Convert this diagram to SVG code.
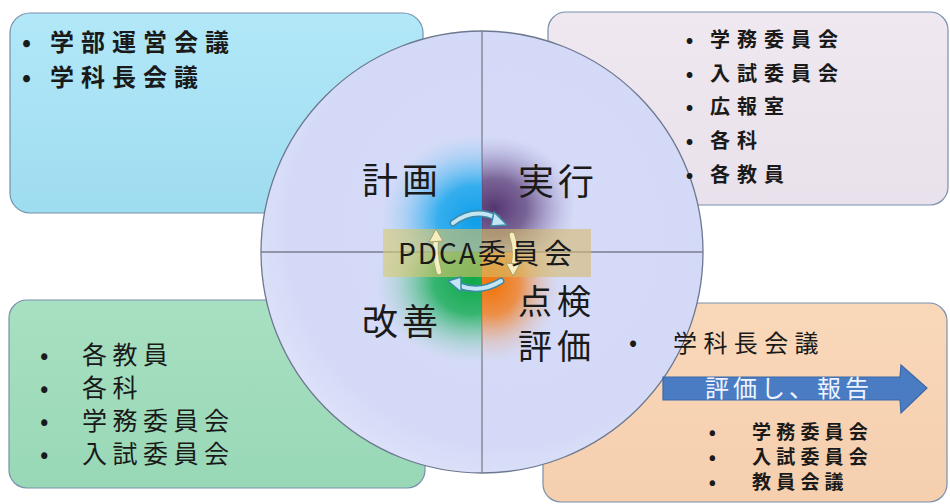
<svg xmlns="http://www.w3.org/2000/svg" width="950" height="504" viewBox="0 0 950 504">
<defs>
<style>
text{font-family:"Noto Sans CJK JP","Noto Sans",sans-serif;fill:#1a1a1a}
.box{stroke:#7890ac;stroke-width:1.2}
.tl{font-size:24px;letter-spacing:7px;font-weight:bold}
.tr{font-size:20px;letter-spacing:7px;font-weight:bold}
.bl{font-size:25px;letter-spacing:5.5px}
.br{font-size:19px;letter-spacing:5.2px;font-weight:bold}
.q{font-size:36px;letter-spacing:4px}
.q2{font-size:34px;letter-spacing:5px}
.bul{text-anchor:middle}
.arc{fill:none;stroke:#3d8aa8;stroke-width:7;stroke-linecap:round}
.arcin{fill:none;stroke:#c4e6f4;stroke-width:4;stroke-linecap:round}
.ahead{fill:#c4e6f4;stroke:#3d8aa8;stroke-width:1.5;stroke-linejoin:round}
.ylwo{fill:none;stroke:#a8a068;stroke-width:6.5;stroke-linecap:round;opacity:0.6}
.ylw{fill:none;stroke:#f4eec0;stroke-width:4.5;stroke-linecap:round}
.yhead{fill:#f4eec0;stroke:#a8a068;stroke-width:1;stroke-linejoin:round}
</style>
<linearGradient id="gTL" x1="0" y1="0" x2="0" y2="1"><stop offset="0" stop-color="#b2e8f8"/><stop offset="1" stop-color="#9edcf0"/></linearGradient>
<linearGradient id="gTR" x1="0" y1="0" x2="0" y2="1"><stop offset="0" stop-color="#efe8f0"/><stop offset="1" stop-color="#e9e1eb"/></linearGradient>
<linearGradient id="gBL" x1="0" y1="0" x2="0" y2="1"><stop offset="0" stop-color="#a8e0c2"/><stop offset="1" stop-color="#98d8b6"/></linearGradient>
<linearGradient id="gBR" x1="0" y1="0" x2="0" y2="1"><stop offset="0" stop-color="#f9d8ba"/><stop offset="1" stop-color="#f5cfae"/></linearGradient>
<radialGradient id="gCirc" cx="0.55" cy="0.45" r="0.6"><stop offset="0" stop-color="#d6dcf8"/><stop offset="0.8" stop-color="#d3d9f6"/><stop offset="1" stop-color="#e0e4fa"/></radialGradient>
<radialGradient id="glBlue"><stop offset="0" stop-color="#0e9ee8" stop-opacity="1"/><stop offset="0.4" stop-color="#18a6ec" stop-opacity="0.85"/><stop offset="0.75" stop-color="#50b8f0" stop-opacity="0.3"/><stop offset="1" stop-color="#80c8f4" stop-opacity="0"/></radialGradient>
<radialGradient id="glPurple"><stop offset="0" stop-color="#553670" stop-opacity="1"/><stop offset="0.4" stop-color="#62467e" stop-opacity="0.8"/><stop offset="0.75" stop-color="#7e6aa6" stop-opacity="0.3"/><stop offset="1" stop-color="#a098c8" stop-opacity="0"/></radialGradient>
<radialGradient id="glGreen"><stop offset="0" stop-color="#0ea848" stop-opacity="1"/><stop offset="0.4" stop-color="#1aae58" stop-opacity="0.85"/><stop offset="0.75" stop-color="#50c088" stop-opacity="0.3"/><stop offset="1" stop-color="#80d0b0" stop-opacity="0"/></radialGradient>
<radialGradient id="glOrange"><stop offset="0" stop-color="#f27206" stop-opacity="1"/><stop offset="0.4" stop-color="#f0822a" stop-opacity="0.85"/><stop offset="0.75" stop-color="#e8a070" stop-opacity="0.3"/><stop offset="1" stop-color="#e0b8b0" stop-opacity="0"/></radialGradient>
<linearGradient id="gBand" x1="0" y1="0" x2="1" y2="0"><stop offset="0" stop-color="#d8cc70"/><stop offset="0.5" stop-color="#d4bc60"/><stop offset="1" stop-color="#d8b870"/></linearGradient>
<clipPath id="cQ1"><rect x="261" y="31" width="221" height="221"/></clipPath>
<clipPath id="cQ2"><rect x="482" y="31" width="221" height="221"/></clipPath>
<clipPath id="cQ3"><rect x="261" y="252" width="221" height="221"/></clipPath>
<clipPath id="cQ4"><rect x="482" y="252" width="221" height="221"/></clipPath>
</defs>

<rect width="950" height="504" fill="#ffffff"/>

<!-- box backgrounds -->
<g id="box-plan"><rect class="box" x="10" y="13" width="413" height="200" rx="20" fill="url(#gTL)"/></g>
<g id="box-do"><rect class="box" x="548" y="12" width="400" height="193" rx="18" fill="url(#gTR)"/></g>
<g id="box-act"><rect class="box" x="9" y="300" width="416" height="188" rx="18" fill="url(#gBL)"/></g>
<g id="box-check"><rect class="box" x="543" y="303" width="404" height="199" rx="18" fill="url(#gBR)"/></g>

<!-- PDCA circle -->
<g id="pdca-circle">
<circle cx="482" cy="252" r="221" fill="url(#gCirc)" stroke="#6c7890" stroke-width="1.3"/>
<line x1="482" y1="31" x2="482" y2="473" stroke="#7a7e8c" stroke-width="1.3"/>
<line x1="261" y1="252" x2="703" y2="252" stroke="#7a7e8c" stroke-width="1.3"/>
<ellipse cx="476" cy="220" rx="95" ry="85" fill="url(#glBlue)" clip-path="url(#cQ1)"/>
<ellipse cx="494" cy="208" rx="82" ry="72" fill="url(#glPurple)" clip-path="url(#cQ2)"/>
<ellipse cx="472" cy="282" rx="95" ry="80" fill="url(#glGreen)" clip-path="url(#cQ3)"/>
<ellipse cx="492" cy="284" rx="68" ry="78" fill="url(#glOrange)" clip-path="url(#cQ4)"/>
<text class="q" x="362" y="194">計画</text>
<text class="q" x="518" y="195">実行</text>
<text class="q" x="362" y="335">改善</text>
<text class="q2" x="518" y="314">点検</text>
<text class="q2" x="518" y="359">評価</text>
</g>

<!-- PDCA committee center -->
<g id="pdca-committee">
<rect x="383" y="229" width="208" height="48" fill="url(#gBand)" opacity="0.6"/>
<path class="ylwo" d="M439,272 Q434,254 436,240"/>
<path class="ylw" d="M439,272 Q434,254 436,240"/>
<polygon class="yhead" points="436,229 429,242 443,241"/>
<path class="ylwo" d="M512,235 Q517,250 514,264"/>
<path class="ylw" d="M512,235 Q517,250 514,264"/>
<polygon class="yhead" points="513,276 506,263 520,264"/>
<path class="arc" d="M453,223 Q474,207 497,218"/>
<path class="arcin" d="M453,223 Q474,207 497,218"/>
<polygon class="ahead" points="507,225 494,212 491,226"/>
<path class="arc" d="M501,281 Q480,294 458,285"/>
<path class="arcin" d="M501,281 Q480,294 458,285"/>
<polygon class="ahead" points="448,281 461,277 461,292"/>
<text x="398" y="264" style="font-size:28px"><tspan style="letter-spacing:2px">PDCA</tspan><tspan style="letter-spacing:5px">委員会</tspan></text>
</g>

<!-- box texts -->
<g id="plan-text">
<text class="tl bul" x="30" y="51">•</text>
<text class="tl" x="50" y="51">学部運営会議</text>
<text class="tl bul" x="30" y="86">•</text>
<text class="tl" x="50" y="86">学科長会議</text>
</g>
<g id="do-text">
<text class="tr bul" x="693" y="47">•</text><text class="tr" x="710" y="47">学務委員会</text>
<text class="tr bul" x="693" y="81">•</text><text class="tr" x="710" y="81">入試委員会</text>
<text class="tr bul" x="693" y="114">•</text><text class="tr" x="710" y="114">広報室</text>
<text class="tr bul" x="693" y="148">•</text><text class="tr" x="710" y="148">各科</text>
<text class="tr bul" x="693" y="182">•</text><text class="tr" x="710" y="182">各教員</text>
</g>
<g id="act-text">
<text class="bl bul" x="47" y="364">•</text><text class="bl" x="82" y="364">各教員</text>
<text class="bl bul" x="47" y="397">•</text><text class="bl" x="82" y="397">各科</text>
<text class="bl bul" x="47" y="430">•</text><text class="bl" x="82" y="430">学務委員会</text>
<text class="bl bul" x="47" y="463">•</text><text class="bl" x="82" y="463">入試委員会</text>
</g>
<g id="check-text">
<text class="bul" x="633" y="351" style="font-size:24px">•</text>
<text x="673" y="352" style="font-size:24px;letter-spacing:6.4px">学科長会議</text>
<g id="report-arrow">
<polygon points="663,377 900,377 901,365 927,388 901,413 900,400 663,400" fill="#4a7cc4" stroke="#3c68a6" stroke-width="1.2"/>
<text x="705" y="397" style="font-size:24px;letter-spacing:4px;fill:#eef4ff">評価し、報告</text>
</g>
<text class="br bul" x="715" y="439">•</text><text class="br" x="752" y="439">学務委員会</text>
<text class="br bul" x="715" y="464">•</text><text class="br" x="752" y="464">入試委員会</text>
<text class="br bul" x="715" y="489">•</text><text class="br" x="752" y="489">教員会議</text>
</g>
</svg>
